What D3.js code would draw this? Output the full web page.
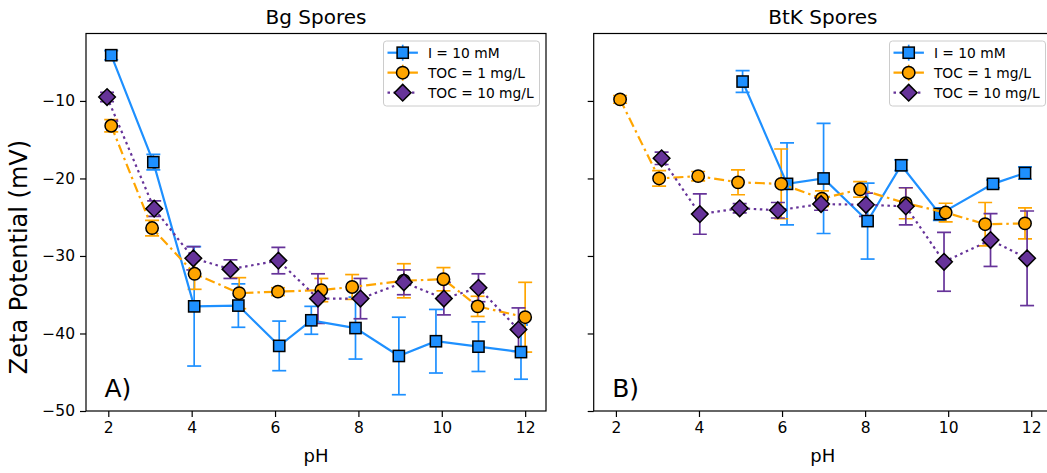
<!DOCTYPE html>
<html><head><meta charset="utf-8">
<script src="https://cdn.jsdelivr.net/npm/d3@7"></script>
<style>body{margin:0;background:#fff}svg{display:block;font-family:"DejaVu Sans",sans-serif}</style>
</head><body><svg id="c" width="1047" height="473"></svg>
<script>
const phTicks = [2,4,6,8,10,12];
const yTicks = [-50,-40,-30,-20,-10];
const seriesNames = ["I = 10 mM","TOC = 1 mg/L","TOC = 10 mg/L"];
const panelTitles = ["Bg Spores","BtK Spores"];
const panelTags = ["A)","B)"];

// Bg spores
const bgIpH   = [2.07,3.08,4.06,5.12,6.10,6.87,7.93,8.97,9.86,10.88,11.90];
const bgIval  = [-4.1,-17.9,-36.5,-36.4,-41.6,-38.3,-39.3,-42.9,-41.0,-41.7,-42.4];
const bgIerr  = [0.6,1.0,7.7,2.8,3.2,1.8,4.0,5.0,4.1,3.2,3.5];
const bgT1pH  = [2.07,3.05,4.07,5.14,6.07,7.11,7.85,9.09,10.04,10.86,12.00];
const bgT1val = [-13.2,-26.4,-32.3,-34.8,-34.6,-34.4,-34.0,-33.2,-33.0,-36.5,-37.9];
const bgT1err = [0.8,1.0,2.0,2.0,0.5,1.5,1.6,2.2,1.5,1.3,4.5];
const bgT10pH  = [1.97,3.10,4.04,4.93,6.08,7.03,8.05,9.09,10.05,10.88,11.84];
const bgT10val = [-9.5,-23.9,-30.3,-31.7,-30.6,-35.5,-35.5,-33.4,-35.5,-34.1,-39.5];
const bgT10err = [0.6,1.0,1.5,1.2,1.7,3.2,2.6,1.6,2.1,1.8,2.8];

// BtK spores
const btIpH   = [5.05,6.12,7.00,8.06,8.87,9.80,11.08,11.85];
const btIval  = [-7.5,-20.7,-20.0,-25.5,-18.3,-24.6,-20.7,-19.3];
const btIerr  = [1.4,5.3,7.1,4.9,0.7,0.8,0.5,0.8];
const btT1pH  = [2.10,3.04,3.98,4.94,5.98,6.96,7.88,8.98,9.94,10.89,11.85];
const btT1val = [-9.8,-20.0,-19.7,-20.5,-20.7,-22.6,-21.4,-23.2,-24.4,-25.9,-25.8];
const btT1err = [0.5,1.0,0.6,1.6,4.5,1.0,1.0,2.0,1.2,2.8,2.0];
const btT10pH  = [3.10,4.02,4.98,5.90,6.94,8.02,8.98,9.90,11.02,11.90];
const btT10val = [-17.4,-24.6,-23.85,-24.1,-23.3,-23.4,-23.6,-30.75,-27.95,-30.3];
const btT10err = [0.8,2.6,0.6,1.0,0.8,1.5,2.4,3.8,3.4,6.1];

const zip = (x,y,e)=>x.map((v,i)=>({x:v,y:y[i],e:e[i]}));
const panels = [
  [zip(bgIpH,bgIval,bgIerr), zip(bgT1pH,bgT1val,bgT1err), zip(bgT10pH,bgT10val,bgT10err)],
  [zip(btIpH,btIval,btIerr), zip(btT1pH,btT1val,btT1err), zip(btT10pH,btT10val,btT10err)]
];

const styles = [
  {color:"#1E90FF", dash:null, shape:"square"},
  {color:"#FFA500", dash:"10,4,2.5,4", shape:"circle"},
  {color:"#663399", dash:"2.5,3.6", shape:"diamond"}
];
const boxes = [{l:86,r:546},{l:593.7,r:1052}];
const plotTop = 33.5, plotBottom = 411;

const svg = d3.select("#c");
const y = d3.scaleLinear().domain([-50,-1.3]).range([plotBottom, plotTop]);

function marker(g, shape, cx, cy, color){
  if(shape==="square"){
    g.append("rect").attr("x",cx-5.6).attr("y",cy-5.6).attr("width",11.2).attr("height",11.2)
      .attr("fill",color).attr("stroke","#000").attr("stroke-width",1.5);
  } else if(shape==="circle"){
    g.append("circle").attr("cx",cx).attr("cy",cy).attr("r",6.2)
      .attr("fill",color).attr("stroke","#000").attr("stroke-width",1.5);
  } else {
    const d=8.3;
    g.append("path").attr("d",`M${cx},${cy-d}L${cx+d},${cy}L${cx},${cy+d}L${cx-d},${cy}Z`)
      .attr("fill",color).attr("stroke","#000").attr("stroke-width",1.5);
  }
}

boxes.forEach((b,pi)=>{
  const x = d3.scaleLinear().domain([1.465,12.5]).range([b.l,b.r]);
  const g = svg.append("g");
  const clipId = "clip"+pi;
  svg.append("clipPath").attr("id",clipId).append("rect")
    .attr("x",b.l).attr("y",plotTop).attr("width",b.r-b.l).attr("height",plotBottom-plotTop);
  const plot = g.append("g").attr("clip-path",`url(#${clipId})`);

  // error bars first
  panels[pi].forEach((data,si)=>{
    const st = styles[si];
    const eg = plot.append("g").attr("stroke",st.color).attr("stroke-width",1.7);
    data.forEach(d=>{
      const px=x(d.x), y1=y(d.y+d.e), y2=y(d.y-d.e);
      eg.append("line").attr("x1",px).attr("x2",px).attr("y1",y1).attr("y2",y2);
      eg.append("line").attr("x1",px-7).attr("x2",px+7).attr("y1",y1).attr("y2",y1);
      eg.append("line").attr("x1",px-7).attr("x2",px+7).attr("y1",y2).attr("y2",y2);
    });
  });
  // lines and markers
  panels[pi].forEach((data,si)=>{
    const st = styles[si];
    const line = d3.line().x(d=>x(d.x)).y(d=>y(d.y));
    plot.append("path").attr("d",line(data)).attr("fill","none")
      .attr("stroke",st.color).attr("stroke-width",2.2)
      .attr("stroke-dasharray",st.dash);
    const mg = plot.append("g");
    data.forEach(d=>marker(mg, st.shape, x(d.x), y(d.y), st.color));
  });

  // spines
  g.append("rect").attr("x",b.l).attr("y",plotTop).attr("width",b.r-b.l).attr("height",plotBottom-plotTop)
    .attr("fill","none").attr("stroke","#000").attr("stroke-width",1.2);

  // x axis
  const xa = g.append("g").attr("transform",`translate(0,${plotBottom})`)
    .call(d3.axisBottom(x).tickValues(phTicks).tickSize(6).tickPadding(5).tickFormat(d3.format("d")));
  xa.select(".domain").remove();
  xa.selectAll("line").attr("stroke","#000").attr("stroke-width",1.2);
  xa.selectAll("text").attr("font-size","15.5px").attr("fill","#000").attr("font-family","DejaVu Sans");

  // y axis
  const ya = g.append("g").attr("transform",`translate(${b.l},0)`)
    .call(d3.axisLeft(y).tickValues(yTicks).tickSize(6).tickPadding(5)
      .tickFormat(pi===0 ? (d=>d3.format("d")(d).replace("-","\u2212")) : ""));
  ya.select(".domain").remove();
  ya.selectAll("line").attr("stroke","#000").attr("stroke-width",1.2);
  ya.selectAll("text").attr("font-size","15.5px").attr("fill","#000").attr("font-family","DejaVu Sans");

  // title
  g.append("text").attr("x",(b.l+b.r)/2).attr("y",24).attr("text-anchor","middle")
    .attr("font-size","20px").text(panelTitles[pi]);
  // x label
  g.append("text").attr("x",(b.l+b.r)/2).attr("y",462).attr("text-anchor","middle")
    .attr("font-size","18px").text("pH");
  // panel tag
  g.append("text").attr("x",b.l+18.5).attr("y",397).attr("font-size","25px").text(panelTags[pi]);

  // legend
  const lx = b.r-162.5, ly = 41, lw = 156, lh = 65;
  const lg = g.append("g");
  lg.append("rect").attr("x",lx).attr("y",ly).attr("width",lw).attr("height",lh).attr("rx",3)
    .attr("fill","#fff").attr("fill-opacity",0.8).attr("stroke","#ccc").attr("stroke-width",1);
  seriesNames.forEach((name,si)=>{
    const st = styles[si];
    const cy = ly + 11.7 + si*20;
    const hx1 = lx+4, hx2 = lx+34.4, hc = (hx1+hx2)/2;
    lg.append("line").attr("x1",hc).attr("x2",hc).attr("y1",cy-8).attr("y2",cy+8)
      .attr("stroke",st.color).attr("stroke-width",1.7);
    lg.append("line").attr("x1",hx1).attr("x2",hx2).attr("y1",cy).attr("y2",cy)
      .attr("stroke",st.color).attr("stroke-width",2.2).attr("stroke-dasharray",st.dash);
    marker(lg, st.shape, hc, cy, st.color);
    lg.append("text").attr("x",lx+44.4).attr("y",cy+5).attr("font-size","13.8px").text(name);
  });
});

// y label
svg.append("text").attr("transform","translate(27,257) rotate(-90)").attr("text-anchor","middle")
  .attr("font-size","24px").text("Zeta Potential (mV)");
</script></body></html>
